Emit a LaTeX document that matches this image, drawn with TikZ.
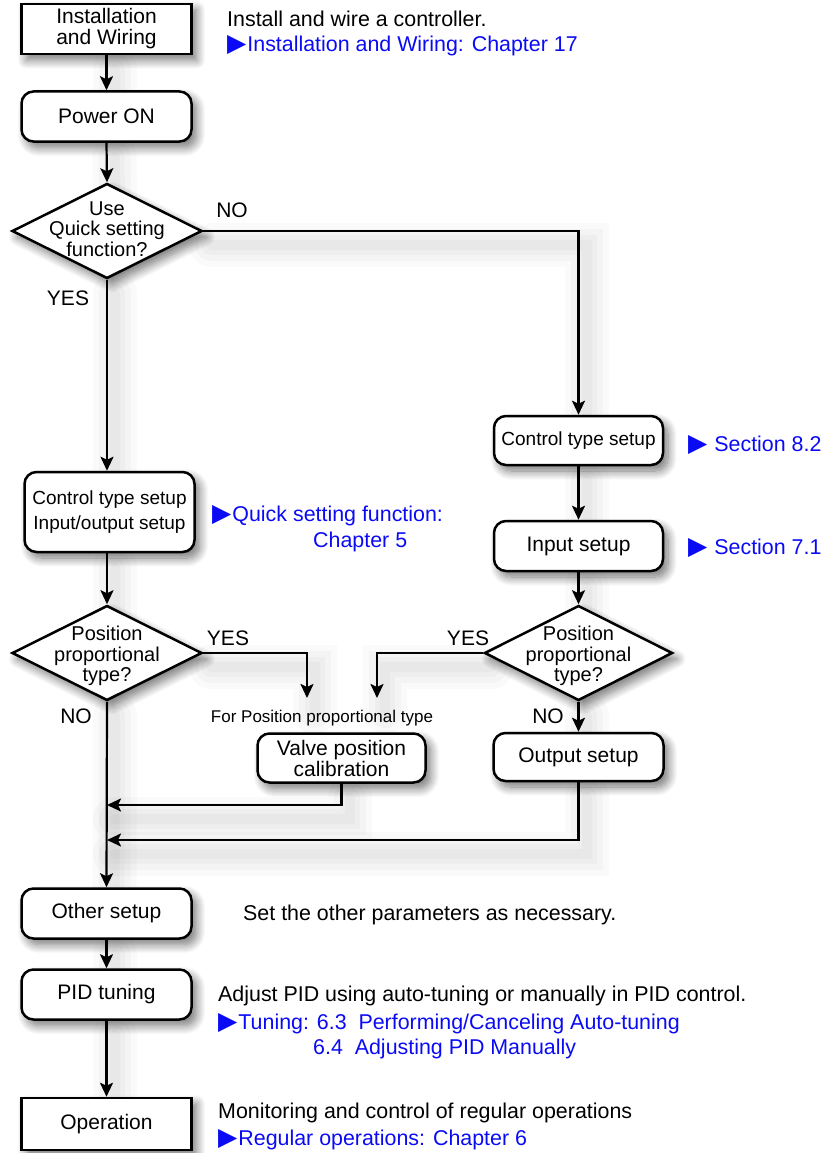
\documentclass[tikz,border=0pt]{standalone}
\usepackage{fontspec}
\setmainfont{Liberation Sans}
\newfontfamily\symfont{DejaVu Sans}
\usetikzlibrary{shapes.geometric,arrows.meta,shadows.blur}
\pgfdeclarelayer{background}
\pgfsetlayers{background,main}
\definecolor{linkblue}{RGB}{10,10,245}
\newcommand{\tri}{{\symfont\fontsize{25}{21}\selectfont ▶}\hspace{1pt}}
\begin{document}
\begin{tikzpicture}[x=1pt,y=-1pt,
  fs/.style={font=\fontsize{21}{21}\selectfont},
  boxsh/.style={blur shadow={shadow xshift=5pt,shadow yshift=-6pt,shadow blur radius=9pt,shadow blur steps=12,shadow opacity=55}},
  sqbox/.style={draw,line width=2.5pt,fill=white,rectangle,minimum width=170pt,minimum height=50pt,inner sep=0pt,align=center,fs,boxsh},
  rbox/.style={sqbox,rounded corners=12pt},
  dia/.style={draw,line width=2.5pt,fill=white,diamond,inner sep=0pt,minimum width=190pt,minimum height=95pt,boxsh},
  dtext/.style={align=center,inner sep=0pt,font=\fontsize{20}{20.5}\selectfont},
  lsh/.style={
    preaction={draw=black,-,line cap=round,opacity=0.018,line width=44pt,transform canvas={shift={(8pt,-14pt)}}},
    preaction={draw=black,-,line cap=round,opacity=0.022,line width=32pt,transform canvas={shift={(8pt,-14pt)}}},
    preaction={draw=black,-,line cap=round,opacity=0.025,line width=20pt,transform canvas={shift={(8pt,-14pt)}}},
    preaction={draw=black,-,line cap=round,opacity=0.025,line width=10pt,transform canvas={shift={(8pt,-14pt)}}}},
  plain/.style={line width=2.2pt,lsh},
  conn/.style={plain,-{Stealth[length=14pt,width=13pt,inset=3pt]}},
  lab/.style={inner sep=0pt,fs},
  note/.style={anchor=base west,inner sep=0pt,font=\fontsize{21.4}{21}\selectfont},
  link/.style={note,text=linkblue}
]
\useasboundingbox (0,0) rectangle (825,1153);

% left column
\node[sqbox] (inst) at (106.5,29) {Installation\\and Wiring};
\node[rbox] (power) at (106.5,116.5) {Power ON};
\node[dia] (d1) at (107,231) {};
\node[dtext] (d1t) at (107,229) {Use\\Quick setting\\function?};
\node[rbox,minimum height=80pt,font=\fontsize{19}{25}\selectfont] (cio) at (109.5,512) {Control type setup\\Input/output setup};
\node[dia] (d2) at (107,653) {};
\node[dtext] (d2t) at (107,656) {Position\\proportional\\type?};
\node[rbox] (other) at (106.5,913.5) {Other setup};
\node[rbox] (pid) at (106.5,994.5) {PID tuning};
\node[sqbox,minimum height=52pt] (oper) at (106.5,1124) {Operation};

% middle / right column
\node[rbox,minimum width=168pt,minimum height=49pt] (valve) at (341.5,758) {Valve position\\calibration};
\node[rbox,minimum width=169pt,minimum height=49pt,font=\fontsize{19}{22}\selectfont] (cts) at (578.5,440.5) {Control type setup};
\node[rbox,minimum width=169pt] (ins) at (578.5,546) {Input setup};
\node[dia,minimum width=188pt] (d3) at (578.5,653) {};
\node[dtext] (d3t) at (578.5,656) {Position\\proportional\\type?};
\node[rbox,minimum width=170pt,minimum height=48pt] (outs) at (578.5,757) {Output setup};

% labels
\node[lab] (no1) at (232,210) {NO};
\node[lab] (yes1) at (68,298) {YES};
\node[lab] (yes2) at (228,638) {YES};
\node[lab] (no2) at (76,716) {NO};
\node[lab] (yes3) at (468,638) {YES};
\node[lab] (no3) at (548,716) {NO};
\node[inner sep=0pt,font=\fontsize{17}{20}\selectfont] (fp) at (322,718) {For Position proportional type};

% notes
\node[note] (t1) at (227,27) {Install and wire a controller.};
\node[link] (t2) at (227,52) {\tri Installation and Wiring: Chapter 17};
\node[link] (t3) at (212,521) {\tri Quick setting function:};
\node[link] (t4) at (313,547) {Chapter 5};
\node[link] (t5) at (688,451) {\tri\ Section 8.2};
\node[link] (t6) at (688,554) {\tri\ Section 7.1};
\node[note] (t7) at (243,920) {Set the other parameters as necessary.};
\node[note] (t8) at (218,1001) {Adjust PID using auto-tuning or manually in PID control.};
\node[link] (t9) at (218,1029) {\tri Tuning: 6.3\ \ Performing/Canceling Auto-tuning};
\node[link] (t10) at (313,1054) {6.4\ \ Adjusting PID Manually};
\node[note] (t11) at (218,1118) {Monitoring and control of regular operations};
\node[link] (t12) at (218,1145) {\tri Regular operations: Chapter 6};

% free ends
\coordinate (y1) at (307,698);
\coordinate (y2) at (377,698);
\coordinate (j1) at (107,805);
\coordinate (j2) at (107,840);

\begin{pgfonlayer}{background}
\draw[conn] (inst.south) -- (power.north);
\draw[conn] (power.south) -- (d1.north);
\draw[conn] (d1.east) -| (cts.north);
\draw[conn] (d1.south) -- (d1.south |- cio.north);
\draw[conn] (cio.south -| d2.north) -- (d2.north);
\draw[conn] (d2.east) -| (y1);
\draw[conn] (d2.south) -- (other.north);
\draw[conn] (cts.south) -- (ins.north);
\draw[conn] (ins.south) -- (d3.north);
\draw[conn] (d3.west) -| (y2);
\draw[conn] (d3.south) -- (outs.north);
\draw[conn] (valve.south) |- (j1);
\draw[conn] (outs.south) |- (j2);
\draw[conn] (other.south) -- (pid.north);
\draw[conn] (pid.south) -- (oper.north);
\end{pgfonlayer}
\end{tikzpicture}
\end{document}
